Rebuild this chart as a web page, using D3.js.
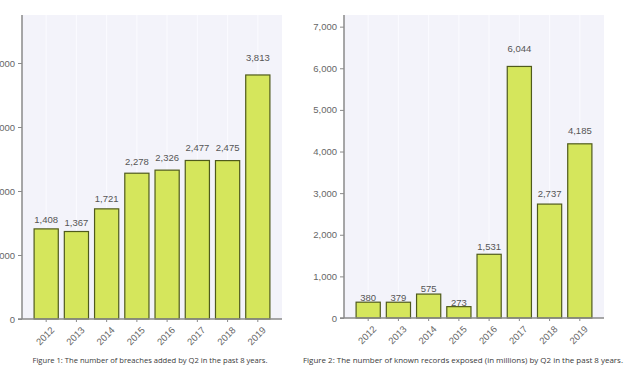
<!DOCTYPE html>
<html>
<head>
<meta charset="utf-8">
<script src="https://cdn.jsdelivr.net/npm/d3@7"></script>
<style>
  body { margin: 0; background: #fff; }
  svg { display: block; }
</style>
</head>
<body>
<div id="chart"></div>
<script>
// data
var years = ["2012", "2013", "2014", "2015", "2016", "2017", "2018", "2019"];
var breaches = [1408, 1367, 1721, 2278, 2326, 2477, 2475, 3813];
var records = [380, 379, 575, 273, 1531, 6044, 2737, 4185];
var ticks1 = [0, 1000, 2000, 3000, 4000];
var ticks2 = [0, 1000, 2000, 3000, 4000, 5000, 6000, 7000];
var caption1 = "Figure 1: The number of breaches added by Q2 in the past 8 years.";
var caption2 = "Figure 2: The number of known records exposed (in millions) by Q2 in the past 8 years.";

var width = 627, height = 369;
var fmt = d3.format(",");

var svg = d3.select("#chart")
    .append("svg")
    .attr("width", width)
    .attr("height", height);

function drawPanel(opts) {
    var g = svg.append("g");

    var x = d3.scaleBand()
        .domain(years)
        .range([opts.left, opts.right])
        .paddingInner(0.2)
        .paddingOuter(0.4);

    var y = d3.scaleLinear()
        .domain([0, opts.max])
        .range([opts.bottom, opts.top]);

    // plot background
    g.append("rect")
        .attr("x", opts.left)
        .attr("y", opts.top)
        .attr("width", opts.right - opts.left)
        .attr("height", opts.bottom - opts.top)
        .attr("fill", "#f3f3fa");

    // faint vertical grid
    g.append("g")
        .selectAll("line")
        .data(years)
        .enter().append("line")
        .attr("x1", function(d) { return x(d) + x.bandwidth() / 2; })
        .attr("x2", function(d) { return x(d) + x.bandwidth() / 2; })
        .attr("y1", opts.top)
        .attr("y2", opts.bottom)
        .style("stroke", "#fbfbff")
        .style("stroke-width", 1);

    g.append("g")
        .selectAll("rect")
        .data(opts.values)
        .enter().append("rect")
        .attr("x", function(d, i) { return x(years[i]); })
        .attr("y", function(d) { return y(d); })
        .attr("width", x.bandwidth())
        .attr("height", function(d) { return opts.bottom - y(d); })
        .attr("fill", "#d5e65c")
        .attr("stroke", "#4f5a1c")
        .attr("stroke-width", 1.2);

    // value labels, nudged up a little more on taller bars
    g.append("g")
        .selectAll("text")
        .data(opts.values)
        .enter().append("text")
        .attr("x", function(d, i) { return x(years[i]) + x.bandwidth() / 2; })
        .attr("y", function(d) { return y(d) - 0.5 - 0.055 * (opts.bottom - y(d)); })
        .attr("text-anchor", "middle")
        .style("font-family", "'Liberation Sans', Arial, sans-serif")
        .style("font-size", "9.5px")
        .style("fill", "#555")
        .text(function(d) { return fmt(d); });

    var yAxis = g.append("g")
        .attr("transform", "translate(" + opts.left + ",0)")
        .call(d3.axisLeft(y).tickValues(opts.ticks).tickFormat(fmt).tickSize(4).tickPadding(3));
    yAxis.select(".domain").attr("d", "M0," + opts.top + "V" + opts.bottom);

    var xAxis = g.append("g")
        .attr("transform", "translate(0," + opts.bottom + ")")
        .call(d3.axisBottom(x).tickSize(3).tickSizeOuter(0));
    xAxis.select(".domain").attr("d", "M" + (opts.left - 4) + ",0H" + opts.right);
    xAxis.selectAll("text")
        .attr("text-anchor", "end")
        .attr("transform", "translate(3,6) rotate(-45)")
        .attr("y", 0)
        .attr("dy", "0.85em")
        .attr("x", 0);

    [yAxis, xAxis].forEach(function(a) {
        a.selectAll(".domain").style("stroke", "#8a8a8a").style("stroke-width", 1.5);
        a.selectAll(".tick line").style("stroke", "#8a8a8a").style("stroke-width", 1);
        a.selectAll("text")
            .style("font-family", "'Liberation Sans', Arial, sans-serif")
            .style("font-size", "9.5px")
            .style("fill", "#666");
    });

    g.append("text")
        .attr("x", opts.capX)
        .attr("y", 363)
        .attr("text-anchor", "middle")
        .attr("textLength", opts.capW)
        .attr("lengthAdjust", "spacingAndGlyphs")
        .style("font-family", "'Open Sans', sans-serif")
        .style("font-size", "7.2px")
        .style("fill", "#3a3a3a")
        .text(opts.caption);
}

drawPanel({
    values: breaches, ticks: ticks1, max: 4750,
    left: 22, right: 282, top: 15, bottom: 319,
    caption: caption1, capX: 150, capW: 235
});

drawPanel({
    values: records, ticks: ticks2, max: 7280,
    left: 344, right: 604, top: 15, bottom: 318,
    caption: caption2, capX: 463, capW: 320
});
</script>
</body>
</html>
